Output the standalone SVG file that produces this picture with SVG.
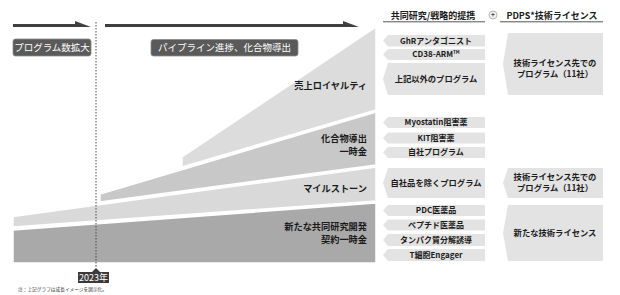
<svg xmlns="http://www.w3.org/2000/svg" width="620" height="295" viewBox="0 0 620 295">
<style>
  text { font-family: "Noto Sans CJK JP", "Noto Sans", sans-serif; font-weight: 700; }
  .lbl { font-size: 9.2px; fill: #1a1a1a; text-anchor: end; }
  .hdr { font-size: 9px; fill: #1a1a1a; text-anchor: middle; }
  .box { fill: #e3e3e3; }
  .bt { font-size: 8px; fill: #1a1a1a; text-anchor: middle; }
  .bt2 { font-size: 8.3px; fill: #1a1a1a; text-anchor: middle; }
  .tag { fill: #5a5a5a; stroke: #8a8a8a; stroke-width: 0.8; }
  .tagt { font-size: 9.5px; fill: #ffffff; text-anchor: middle; font-weight: 400; }
  .band { stroke: #ffffff; stroke-width: 1.5; stroke-linejoin: miter; }
</style>

<g id="chart">
  <polygon class="band" points="13,230 376,203 376,263 13,263" fill="#a9a9a9"/>
  <polygon class="band" points="13,216.5 376,167 376,201 13,227" fill="#d9d9d9"/>
  <polygon class="band" points="100,194 376,112 376,165 100,202" fill="#c8c8c8"/>
  <polygon class="band" points="182,157 376,27 376,110 182,167" fill="#dcdcdc"/>
</g>

<g id="band-labels">
  <text class="lbl" x="367" y="88.5">売上ロイヤルティ</text>
  <text class="lbl" x="367" y="141.5">化合物導出</text>
  <text class="lbl" x="367" y="154.8">一時金</text>
  <text class="lbl" x="367" y="191.5">マイルストーン</text>
  <text class="lbl" x="367" y="230">新たな共同研究開発</text>
  <text class="lbl" x="367" y="243">契約一時金</text>
</g>

<g id="timeline">
  <line x1="96" y1="22" x2="96" y2="268" stroke="#4a4a4a" stroke-width="1" stroke-dasharray="1.5,1.5"/>
  <polygon points="13,24 75,24 75,21 91,27 13,27" fill="#3f3f3f"/>
  <polygon points="105,24 343,24 343,21 359,27 105,27" fill="#3f3f3f"/>
</g>

<g id="tag-program">
  <rect class="tag" x="13" y="39" width="78" height="17" rx="2.5"/>
  <text class="tagt" x="52" y="51">プログラム数拡大</text>
</g>
<g id="tag-pipeline">
  <rect class="tag" x="151" y="39.5" width="147" height="16.5" rx="2.5"/>
  <text class="tagt" x="224.5" y="51.2">パイプライン進捗、化合物導出</text>
</g>

<g id="year-2023">
  <polygon points="78,272 92,272 96,268 100,272 109,272 109,283 78,283" fill="#3a3a3a"/>
  <text x="93.5" y="281" font-size="9" fill="#ffffff" text-anchor="middle" style="font-weight:400">2023年</text>
</g>

<text id="note" x="18" y="290.5" font-size="4.7" fill="#333" style="font-weight:400">注：上記グラフは成長イメージを図示化。</text>

<g id="headers">
  <text class="hdr" x="433" y="18.5">共同研究/戦略的提携</text>
  <line x1="383" y1="21.8" x2="485" y2="21.8" stroke="#555" stroke-width="1"/>
  <circle cx="493" cy="15" r="4" fill="#f2f2f2" stroke="#999" stroke-width="0.7"/>
  <text x="493" y="17.3" font-size="6.5" fill="#333" text-anchor="middle">+</text>
  <text class="hdr" x="552" y="18.5">PDPS*技術ライセンス</text>
  <line x1="500" y1="21.8" x2="603" y2="21.8" stroke="#555" stroke-width="1"/>
</g>

<g id="box-ghr">
  <polygon class="box" points="388,35 485,35 485,46.5 388,46.5 383,40.75"/>
  <text class="bt" x="436" y="43.7">GhRアンタゴニスト</text>
</g>
<g id="box-cd38">
  <polygon class="box" points="388,49 485,49 485,60 388,60 383,54.5"/>
  <text class="bt" x="436" y="57.3">CD38-ARM<tspan font-size="4.5" dy="-3">TM</tspan></text>
</g>
<g id="box-other">
  <polygon class="box" points="388,63 485,63 485,95 388,95 383,79"/>
  <text class="bt2" x="436" y="82">上記以外のプログラム</text>
</g>
<g id="box-license1">
  <polygon class="box" points="508,33 603,33 603,95 508,95 503,64"/>
  <text class="bt2" x="555" y="66">技術ライセンス先での</text>
  <text class="bt2" x="555" y="76.8">プログラム（11社）</text>
</g>

<g id="box-myostatin">
  <polygon class="box" points="388,117 485,117 485,128 388,128 383,122.5"/>
  <text class="bt" x="436" y="125.3">Myostatin阻害薬</text>
</g>
<g id="box-kit">
  <polygon class="box" points="388,132.5 485,132.5 485,143.5 388,143.5 383,138"/>
  <text class="bt" x="436" y="140.8">KIT阻害薬</text>
</g>
<g id="box-own">
  <polygon class="box" points="388,147 485,147 485,158 388,158 383,152.5"/>
  <text class="bt" x="436" y="155.3">自社プログラム</text>
</g>

<g id="box-excl">
  <polygon class="box" points="388,168 485,168 485,198 388,198 383,183"/>
  <text class="bt2" x="436" y="186">自社品を除くプログラム</text>
</g>
<g id="box-license2">
  <polygon class="box" points="508,168 603,168 603,198 508,198 503,183"/>
  <text class="bt2" x="555" y="180.2">技術ライセンス先での</text>
  <text class="bt2" x="555" y="191.2">プログラム（11社）</text>
</g>

<g id="box-pdc">
  <polygon class="box" points="388,205 485,205 485,216 388,216 383,210.5"/>
  <text class="bt" x="436" y="213.3">PDC医薬品</text>
</g>
<g id="box-peptide">
  <polygon class="box" points="388,219.5 485,219.5 485,230.5 388,230.5 383,225"/>
  <text class="bt" x="436" y="227.8">ペプチド医薬品</text>
</g>
<g id="box-protein">
  <polygon class="box" points="388,234 485,234 485,246 388,246 383,240"/>
  <text class="bt" x="436" y="242.8">タンパク質分解誘導</text>
</g>
<g id="box-tcell">
  <polygon class="box" points="388,249 485,249 485,261 388,261 383,255"/>
  <text class="bt" x="436" y="257.8">T細胞Engager</text>
</g>
<g id="box-newlicense">
  <polygon class="box" points="508,205 603,205 603,261 508,261 503,233"/>
  <text class="bt2" x="555" y="235.7">新たな技術ライセンス</text>
</g>
</svg>
